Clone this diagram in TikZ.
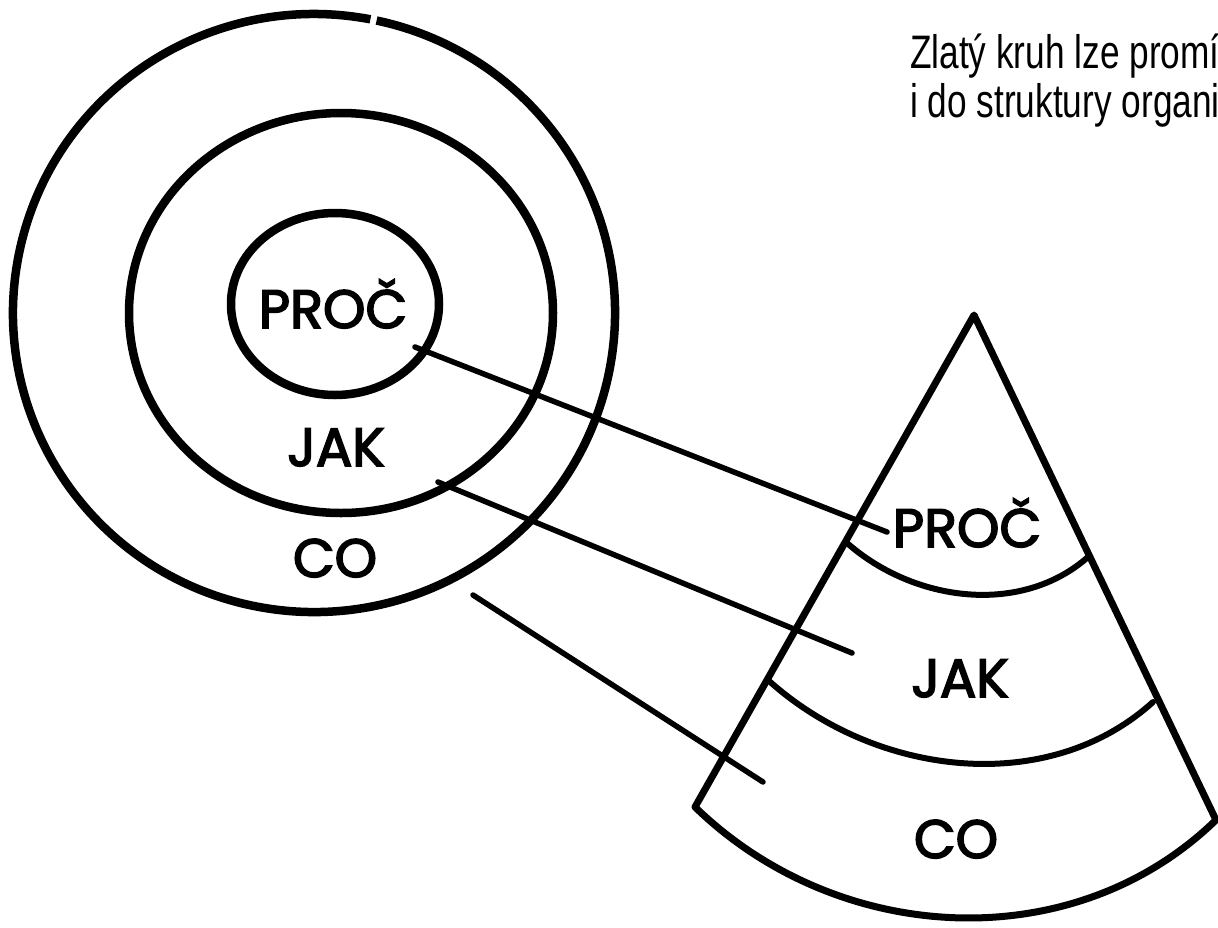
\documentclass[tikz,border=0pt]{standalone}
\usepackage{fontspec}
\setmainfont{Poppins}[FakeBold=3]
\newfontfamily\narrowfont[FakeStretch=0.75]{Liberation Sans}
\usetikzlibrary{calc}
\begin{document}
\begin{tikzpicture}[x=1pt,y=-1pt,
  ring/.style={line width=8.5pt},
  conel/.style={line width=7pt, line join=round, line cap=round},
  band/.style={line width=6pt, line cap=round},
  link/.style={line width=5.5pt, line cap=round},
  lab/.style={font=\fontsize{54}{54}\selectfont, inner sep=0pt, anchor=base},
  caption/.style={font=\narrowfont\fontsize{47}{49}\selectfont, inner sep=0pt, anchor=base west}]
\useasboundingbox (0,0) rectangle (1218,927);

% concentric circles
\coordinate (oc) at (314,313);
\draw[ring] (oc) ++(282:301 and 299) arc[start angle=282, end angle=640.8, x radius=301, y radius=299];
\draw[ring] (341,313) ellipse[x radius=212, y radius=200];
\draw[ring] (335,304) ellipse[x radius=104, y radius=91];

% circle labels
\node[lab] (cproc) at (333,328) {PROČ};
\node[lab] (cjak) at (336,466) {JAK};
\node[lab] (cco) at (335,577) {CO};

% cone
\coordinate (apex) at (974,315);
\coordinate (bl) at (695,807);
\coordinate (br) at (1216,820);
\coordinate (a1l) at (847,543);
\coordinate (a1r) at (1088,557);
\coordinate (a2l) at (768,680);
\coordinate (a2r) at (1153,702);
\draw[conel] (apex) -- (bl) .. controls ($(bl)+(143,139)$) and ($(br)+(-143,139)$) .. (br) -- cycle;
\draw[band] (a1l) .. controls ($(a1l)+(67,59)$) and ($(a1r)+(-67,59)$) .. (a1r);
\draw[band] (a2l) .. controls ($(a2l)+(106,96)$) and ($(a2r)+(-106,96)$) .. (a2r);

% cone labels
\node[lab] (kproc) at (967,547) {PROČ};
\node[lab] (kjak) at (960,697) {JAK};
\node[lab] (kco) at (956,858) {CO};

% connectors
\coordinate (l1s) at (415,347);
\coordinate (l1e) at (887,532);
\coordinate (l2s) at (438,482);
\coordinate (l2e) at (852,653);
\coordinate (l3s) at (473,595);
\coordinate (l3e) at (763,782);
\draw[link] (l1s) -- (l1e);
\draw[link] (l2s) -- (l2e);
\draw[link] (l3s) -- (l3e);

% caption
\node[caption] (t1) at (910,68) {Zlatý kruh lze promí};
\node[caption] (t2) at (910,117) {i do struktury organi};
\end{tikzpicture}
\end{document}
